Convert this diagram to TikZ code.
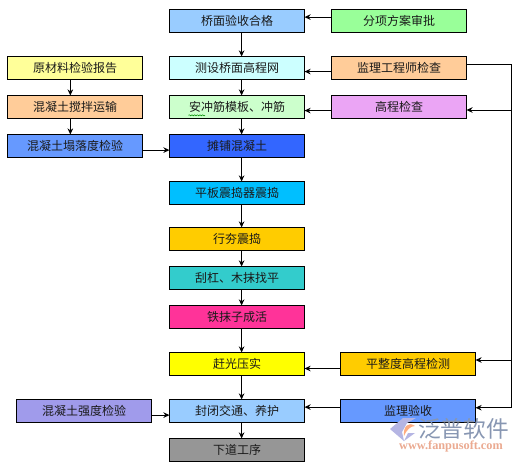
\documentclass[tikz,border=0pt]{standalone}
\usepackage{fontspec}
\setmainfont{Noto Sans CJK SC}
\newfontfamily\wmserif{Liberation Serif}
\usetikzlibrary{arrows.meta,decorations.pathmorphing}
\definecolor{cTxt}{HTML}{1A1A1A}
\tikzset{
  x=0.75pt,y=-0.75pt,
  stagebox/.style={draw=black,line width=0.8pt,outer sep=0pt,minimum width=101.25pt,minimum height=17.4pt,inner sep=0pt,
    font=\fontsize{9}{9}\selectfont,text=cTxt,anchor=north west},
  link/.style={draw=black,line width=0.75pt,-{Stealth[length=4.6pt,width=4.2pt]}},
  plain/.style={draw=black,line width=0.75pt},
}
\begin{document}
\begin{tikzpicture}
\useasboundingbox (0,0) rectangle (520,462);
\fill[white] (0,0) rectangle (520,462);
% centre column
\node[stagebox,fill={rgb,255:red,153;green,204;blue,255}] (a1) at (169.5,9.5) {桥面验收合格};
\node[stagebox,fill={rgb,255:red,204;green,255;blue,255}] (a2) at (169.5,56.5) {测设桥面高程网};
\node[stagebox,fill={rgb,255:red,204;green,255;blue,204}] (a3) at (169.5,95.5) {安冲筋模板、冲筋};
\node[stagebox,fill={rgb,255:red,51;green,102;blue,255}] (a4) at (169.5,134.5) {摊铺混凝土};
\node[stagebox,fill={rgb,255:red,0;green,191;blue,255}] (a5) at (169.5,181.5) {平板震捣器震捣};
\node[stagebox,fill={rgb,255:red,255;green,204;blue,0}] (a6) at (169.5,227.5) {行夯震捣};
\node[stagebox,fill={rgb,255:red,51;green,204;blue,204}] (a7) at (169.5,266.5) {刮杠、木抹找平};
\node[stagebox,fill={rgb,255:red,255;green,51;blue,153}] (a8) at (169.5,305.5) {铁抹子成活};
\node[stagebox,fill={rgb,255:red,255;green,255;blue,0}] (a9) at (169.5,352.5) {赶光压实};
\node[stagebox,fill={rgb,255:red,153;green,204;blue,255}] (a10) at (169.5,399.5) {封闭交通、养护};
\node[stagebox,fill={rgb,255:red,150;green,150;blue,150}] (a11) at (169.5,438.5) {下道工序};
% left column
\node[stagebox,fill={rgb,255:red,255;green,255;blue,153}] (l1) at (7.5,56.5) {原材料检验报告};
\node[stagebox,fill={rgb,255:red,255;green,204;blue,153}] (l2) at (7.5,95.5) {混凝土搅拌运输};
\node[stagebox,fill={rgb,255:red,102;green,153;blue,255}] (l3) at (7.5,134.5) {混凝土塌落度检验};
\node[stagebox,fill={rgb,255:red,160;green,155;blue,235}] (l4) at (16.5,399.5) {混凝土强度检验};
% right column
\node[stagebox,fill={rgb,255:red,153;green,255;blue,153}] (r1) at (331.5,9.5) {分项方案审批};
\node[stagebox,fill={rgb,255:red,255;green,204;blue,153}] (r2) at (331.5,56.5) {监理工程师检查};
\node[stagebox,fill={rgb,255:red,235;green,165;blue,245}] (r3) at (331.5,95.5) {高程检查};
\node[stagebox,fill={rgb,255:red,255;green,204;blue,0}] (r4) at (340.5,352.5) {平整度高程检测};
\node[stagebox,fill={rgb,255:red,102;green,153;blue,255}] (r5) at (340.5,399.5) {监理验收};
% grammar squiggle under the first two characters
\draw[green!55!black,line width=0.4pt,decorate,decoration={snake,amplitude=0.4pt,segment length=2pt}] (188.5,115.3) -- (205,115.3);
% bus corners
\coordinate (bb) at (511.5,407.7);
\coordinate (b3) at (511.5,110);
\coordinate (b4) at (511.5,360);
% vertical connectors
\foreach \p/\q in {a1/a2,a2/a3,a3/a4,a4/a5,a5/a6,a6/a7,a7/a8,a8/a9,a9/a10,a10/a11}
  \draw[link] ([xshift=3.45pt]\p.south) -- ([xshift=3.45pt]\q.north);
\foreach \p/\q in {l1/l2,l2/l3}
  \draw[link] ([xshift=-3.5pt]\p.south) -- ([xshift=-3.5pt]\q.north);
% horizontal connectors
\draw[link] ([yshift=-3pt]l3.east) -- ([yshift=-3pt]a4.west);
\draw[link] ([yshift=-3pt]l4.east) -- ([yshift=-3pt]a10.west);
\draw[link] ([yshift=3pt]r1.west) -- ([yshift=3pt]a1.east);
\draw[link] ([yshift=-2.6pt]r2.west) -- ([yshift=-2.6pt]a2.east);
\draw[link] ([yshift=-2.6pt]r3.west) -- ([yshift=-2.6pt]a3.east);
\draw[link] ([yshift=-3.3pt]r4.west) -- ([yshift=-3.3pt]a9.east);
\draw[link] ([yshift=3pt]r5.west) -- ([yshift=3pt]a10.east);
% bus
\draw[plain] ([yshift=3pt]r2.east) -| (bb);
\draw[link] (b3) -- (r3.east |- b3);
\draw[link] (b4) -- (r4.east |- b4);
\draw[link] (bb) -- (r5.east |- bb);
% watermark
\fill[gray!55!blue!40] (390,429) -- (403,418) -- (416,418) -- (407,423) -- (402,432) -- (404,441) -- cycle;
\fill[gray!55!blue!40] (404,441) -- (415,433) -- (408,433) -- cycle;
\fill[orange!70!red!50] (404,436) .. controls (403,427) and (408,421) .. (415,426) .. controls (411,426) and (407,429) .. (404,436) -- cycle;
\node[font=\fontsize{17}{17}\selectfont,text={rgb,255:red,135;green,150;blue,178},inner sep=0pt] (wm1) at (463.5,429) {泛普软件};
\node[font=\wmserif\bfseries\fontsize{9.2}{9.2}\selectfont,text={rgb,255:red,235;green,170;blue,145},inner sep=0pt] (wm2) at (451,446.5) {www.fanpusoft.com};
\end{tikzpicture}
\end{document}
